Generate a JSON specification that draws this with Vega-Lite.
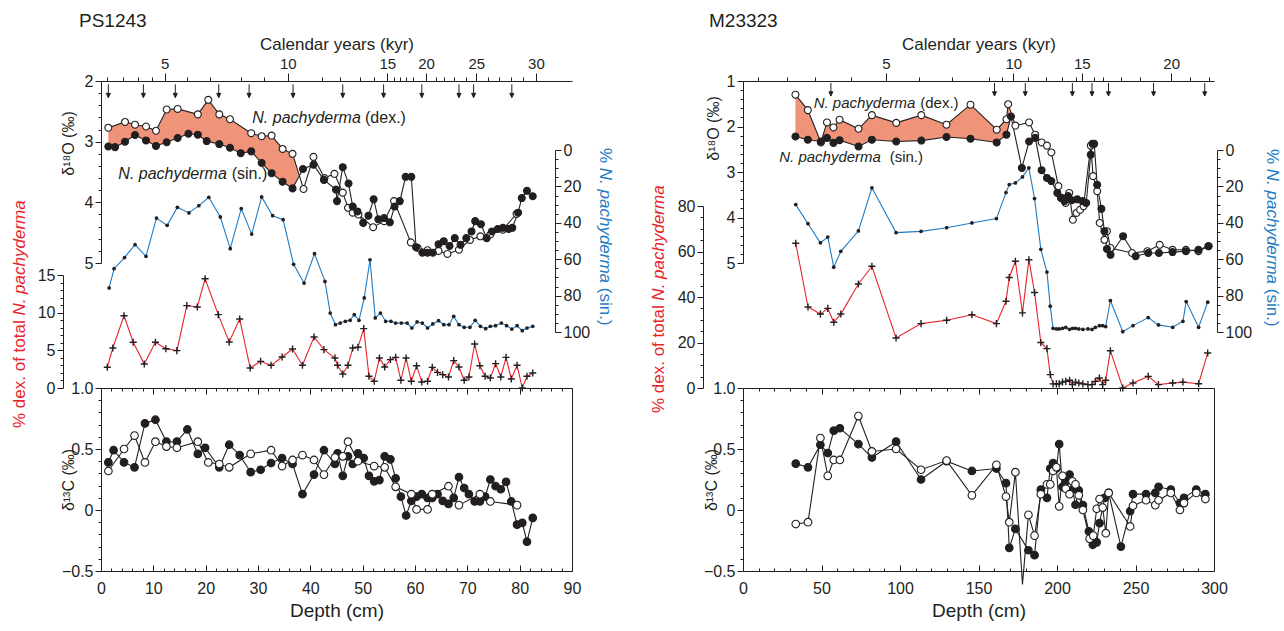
{
"$schema": "https://vega.github.io/schema/vega-lite/v6.json",
"background": "white",
"padding": {"left": 10, "top": 12, "right": 0, "bottom": 0},
"config": {
  "font": "Liberation Sans",
  "view": {"stroke": null},
  "axis": {"labelFont": "Liberation Sans", "titleFont": "Liberation Sans", "labelFontSize": 16, "titleFontSize": 17, "labelColor": "#231F20", "titleColor": "#231F20", "domainColor": "#231F20", "tickColor": "#231F20", "grid": false, "titleFontWeight": "normal", "labelOverlap": false, "labelFlush": false, "labelBound": false, "domainWidth": 1, "tickWidth": 1},
  "title": {"font": "Liberation Sans", "fontSize": 19, "fontWeight": "normal", "anchor": "start", "color": "#231F20"},
  "text": {"font": "Liberation Sans"}
},
"datasets": {
  "ps_o": [
    {"depth":1.4,"sp":"dex","v":2.77},{"depth":4.59,"sp":"dex","v":2.675},{"depth":6.5,"sp":"dex","v":2.72},{"depth":8.6,"sp":"dex","v":2.75},{"depth":10.5,"sp":"dex","v":2.82},{"depth":12.55,"sp":"dex","v":2.47},{"depth":14.65,"sp":"dex","v":2.46},{"depth":18.5,"sp":"dex","v":2.55},{"depth":20.5,"sp":"dex","v":2.31},{"depth":22.6,"sp":"dex","v":2.55},{"depth":24.65,"sp":"dex","v":2.63},{"depth":28.7,"sp":"dex","v":2.86},{"depth":30.7,"sp":"dex","v":2.91},{"depth":32.6,"sp":"dex","v":2.9},{"depth":34.7,"sp":"dex","v":3.12},{"depth":36.6,"sp":"dex","v":3.2},{"depth":38.7,"sp":"dex","v":3.78},{"depth":40.6,"sp":"dex","v":3.25},{"depth":42.7,"sp":"dex","v":3.6},{"depth":44.6,"sp":"dex","v":3.53},{"depth":46.2,"sp":"dex","v":3.84},{"depth":47.2,"sp":"dex","v":4.09},{"depth":48.1,"sp":"dex","v":4.17},{"depth":49.2,"sp":"dex","v":4.2},{"depth":52.0,"sp":"dex","v":4.41},{"depth":54.1,"sp":"dex","v":4.31},{"depth":56.0,"sp":"dex","v":3.98},{"depth":59.2,"sp":"dex","v":4.66},{"depth":60.5,"sp":"dex","v":4.75},{"depth":62.4,"sp":"dex","v":4.79},{"depth":64.5,"sp":"dex","v":4.8},{"depth":66.2,"sp":"dex","v":4.85},{"depth":68.4,"sp":"dex","v":4.78},{"depth":70.5,"sp":"dex","v":4.62},{"depth":72.5,"sp":"dex","v":4.56},{"depth":74.4,"sp":"dex","v":4.53},{"depth":76.8,"sp":"dex","v":4.45},{"depth":79.4,"sp":"dex","v":4.19},
    {"depth":1.4,"sp":"sin","v":3.08},{"depth":2.68,"sp":"sin","v":3.09},{"depth":4.59,"sp":"sin","v":3.0},{"depth":6.5,"sp":"sin","v":2.89},{"depth":8.6,"sp":"sin","v":2.98},{"depth":10.5,"sp":"sin","v":3.07},{"depth":12.55,"sp":"sin","v":3.01},{"depth":14.65,"sp":"sin","v":2.94},{"depth":16.7,"sp":"sin","v":2.87},{"depth":18.5,"sp":"sin","v":2.885},{"depth":20.2,"sp":"sin","v":2.99},{"depth":22.6,"sp":"sin","v":3.04},{"depth":24.65,"sp":"sin","v":3.1},{"depth":26.7,"sp":"sin","v":3.19},{"depth":28.7,"sp":"sin","v":3.16},{"depth":30.7,"sp":"sin","v":3.35},{"depth":32.6,"sp":"sin","v":3.52},{"depth":34.7,"sp":"sin","v":3.66},{"depth":36.6,"sp":"sin","v":3.77},{"depth":38.6,"sp":"sin","v":3.45},{"depth":40.6,"sp":"sin","v":3.38},{"depth":42.6,"sp":"sin","v":3.63},{"depth":44.9,"sp":"sin","v":3.79},{"depth":45.1,"sp":"sin","v":3.98},{"depth":46.2,"sp":"sin","v":3.42},{"depth":47.3,"sp":"sin","v":3.69},{"depth":48.1,"sp":"sin","v":4.07},{"depth":49.0,"sp":"sin","v":4.15},{"depth":50.1,"sp":"sin","v":4.34},{"depth":51.1,"sp":"sin","v":4.22},{"depth":52.1,"sp":"sin","v":3.95},{"depth":53.0,"sp":"sin","v":4.28},{"depth":54.1,"sp":"sin","v":4.26},{"depth":55.2,"sp":"sin","v":4.33},{"depth":56.1,"sp":"sin","v":4.07},{"depth":57.1,"sp":"sin","v":3.98},{"depth":58.2,"sp":"sin","v":3.58},{"depth":59.3,"sp":"sin","v":3.58},{"depth":60.2,"sp":"sin","v":4.74},{"depth":61.4,"sp":"sin","v":4.83},{"depth":62.4,"sp":"sin","v":4.83},{"depth":63.4,"sp":"sin","v":4.83},{"depth":64.5,"sp":"sin","v":4.69},{"depth":65.5,"sp":"sin","v":4.64},{"depth":66.6,"sp":"sin","v":4.72},{"depth":67.6,"sp":"sin","v":4.59},{"depth":68.7,"sp":"sin","v":4.7},{"depth":69.8,"sp":"sin","v":4.59},{"depth":70.8,"sp":"sin","v":4.48},{"depth":71.5,"sp":"sin","v":4.31},{"depth":72.6,"sp":"sin","v":4.36},{"depth":73.7,"sp":"sin","v":4.59},{"depth":74.7,"sp":"sin","v":4.48},{"depth":75.8,"sp":"sin","v":4.44},{"depth":76.8,"sp":"sin","v":4.42},{"depth":77.9,"sp":"sin","v":4.44},{"depth":78.6,"sp":"sin","v":4.42},{"depth":79.7,"sp":"sin","v":4.17},{"depth":80.4,"sp":"sin","v":3.93},{"depth":81.4,"sp":"sin","v":3.81},{"depth":82.5,"sp":"sin","v":3.9}
  ],
  "ps_fill": [
    {"depth":1.4,"dex":2.77,"sin":3.08},{"depth":2.68,"dex":2.73,"sin":3.09},{"depth":4.59,"dex":2.675,"sin":3.0},{"depth":6.5,"dex":2.72,"sin":2.89},{"depth":8.6,"dex":2.75,"sin":2.98},{"depth":10.5,"dex":2.82,"sin":3.07},{"depth":12.55,"dex":2.47,"sin":3.01},{"depth":14.65,"dex":2.46,"sin":2.94},{"depth":16.7,"dex":2.51,"sin":2.87},{"depth":18.5,"dex":2.55,"sin":2.885},{"depth":20.35,"dex":2.31,"sin":2.99},{"depth":22.6,"dex":2.55,"sin":3.04},{"depth":24.65,"dex":2.63,"sin":3.1},{"depth":26.7,"dex":2.75,"sin":3.19},{"depth":28.7,"dex":2.86,"sin":3.16},{"depth":30.7,"dex":2.91,"sin":3.35},{"depth":32.6,"dex":2.9,"sin":3.52},{"depth":34.7,"dex":3.12,"sin":3.66},{"depth":36.6,"dex":3.2,"sin":3.77},{"depth":37.8,"dex":3.54,"sin":3.54}
  ],
  "ps_sin": [
    {"depth":1.55,"p":75.8},{"depth":2.5,"p":65.2},{"depth":4.5,"p":59.1},{"depth":6.5,"p":52.0},{"depth":8.6,"p":58.4},{"depth":10.6,"p":37.4},{"depth":12.65,"p":41.4},{"depth":14.6,"p":31.5},{"depth":16.8,"p":34.6},{"depth":18.7,"p":30.6},{"depth":20.6,"p":26.0},{"depth":22.8,"p":36.8},{"depth":24.7,"p":54.2},{"depth":26.8,"p":32.2},{"depth":28.8,"p":46.2},{"depth":30.7,"p":25.8},{"depth":32.8,"p":36.1},{"depth":34.8,"p":38.3},{"depth":36.8,"p":62.8},{"depth":38.8,"p":73.1},{"depth":40.8,"p":57.0},{"depth":42.8,"p":72.2},{"depth":43.8,"p":89.6},{"depth":44.8,"p":96.0},{"depth":45.7,"p":95.1},{"depth":46.7,"p":94.1},{"depth":47.6,"p":93.6},{"depth":48.4,"p":90.5},{"depth":49.3,"p":93.6},{"depth":50.3,"p":81.3},{"depth":51.4,"p":60.3},{"depth":52.4,"p":92.3},{"depth":53.4,"p":89.6},{"depth":54.4,"p":94.1},{"depth":55.4,"p":94.1},{"depth":56.3,"p":95.1},{"depth":57.4,"p":95.1},{"depth":58.5,"p":95.1},{"depth":59.4,"p":97.8},{"depth":60.4,"p":94.5},{"depth":61.4,"p":95.1},{"depth":62.4,"p":97.8},{"depth":63.4,"p":95.6},{"depth":64.5,"p":93.8},{"depth":65.5,"p":96.0},{"depth":66.5,"p":96.0},{"depth":67.4,"p":91.4},{"depth":68.4,"p":96.0},{"depth":69.4,"p":97.4},{"depth":70.5,"p":97.4},{"depth":71.5,"p":93.6},{"depth":72.5,"p":96.9},{"depth":73.5,"p":98.2},{"depth":74.4,"p":96.9},{"depth":75.4,"p":96.5},{"depth":76.5,"p":95.1},{"depth":77.5,"p":96.5},{"depth":78.5,"p":98.4},{"depth":79.5,"p":96.5},{"depth":80.5,"p":99.3},{"depth":81.4,"p":97.8},{"depth":82.5,"p":96.9}
  ],
  "ps_dex": [
    {"depth":1.2,"p":2.75},{"depth":2.26,"p":5.31},{"depth":4.4,"p":9.6},{"depth":6.15,"p":6.07},{"depth":8.27,"p":3.19},{"depth":10.4,"p":6.07},{"depth":12.4,"p":5.22},{"depth":14.5,"p":4.96},{"depth":16.4,"p":10.93},{"depth":18.4,"p":10.76},{"depth":19.9,"p":14.5},{"depth":22.4,"p":9.74},{"depth":24.5,"p":6.11},{"depth":26.5,"p":9.16},{"depth":28.5,"p":2.66},{"depth":30.5,"p":3.54},{"depth":32.5,"p":3.01},{"depth":34.6,"p":4.12},{"depth":36.6,"p":5.18},{"depth":38.5,"p":3.01},{"depth":40.7,"p":6.77},{"depth":42.6,"p":5.09},{"depth":44.7,"p":3.98},{"depth":45.2,"p":3.01},{"depth":46.2,"p":1.86},{"depth":47.2,"p":3.01},{"depth":48.1,"p":5.31},{"depth":49.1,"p":5.4},{"depth":50.2,"p":7.88},{"depth":51.2,"p":1.55},{"depth":52.2,"p":0.89},{"depth":53.2,"p":3.98},{"depth":54.2,"p":2.79},{"depth":55.3,"p":3.76},{"depth":56.3,"p":4.07},{"depth":57.3,"p":1.02},{"depth":58.3,"p":3.98},{"depth":59.3,"p":0.89},{"depth":60.3,"p":2.96},{"depth":61.3,"p":0.8},{"depth":62.4,"p":0.89},{"depth":63.3,"p":2.74},{"depth":64.3,"p":2.07},{"depth":65.3,"p":1.77},{"depth":66.4,"p":1.46},{"depth":67.4,"p":3.63},{"depth":68.4,"p":2.79},{"depth":69.4,"p":1.02},{"depth":70.3,"p":1.46},{"depth":71.4,"p":5.84},{"depth":72.4,"p":2.96},{"depth":73.4,"p":1.55},{"depth":74.4,"p":1.33},{"depth":75.4,"p":3.23},{"depth":76.4,"p":1.46},{"depth":77.4,"p":4.07},{"depth":78.4,"p":1.2},{"depth":79.5,"p":3.01},{"depth":80.5,"p":0.0},{"depth":81.4,"p":1.55},{"depth":82.5,"p":1.99}
  ],
  "ps_c": [
    {"depth":1.41,"sp":"sin","v":0.39},{"depth":2.4,"sp":"sin","v":0.49},{"depth":4.4,"sp":"sin","v":0.39},{"depth":6.4,"sp":"sin","v":0.35},{"depth":8.4,"sp":"sin","v":0.71},{"depth":10.4,"sp":"sin","v":0.74},{"depth":12.5,"sp":"sin","v":0.56},{"depth":14.5,"sp":"sin","v":0.56},{"depth":16.5,"sp":"sin","v":0.66},{"depth":18.5,"sp":"sin","v":0.46},{"depth":19.9,"sp":"sin","v":0.51},{"depth":22.6,"sp":"sin","v":0.35},{"depth":24.5,"sp":"sin","v":0.535},{"depth":26.5,"sp":"sin","v":0.45},{"depth":28.6,"sp":"sin","v":0.31},{"depth":30.5,"sp":"sin","v":0.33},{"depth":32.5,"sp":"sin","v":0.385},{"depth":34.6,"sp":"sin","v":0.426},{"depth":36.6,"sp":"sin","v":0.377},{"depth":38.5,"sp":"sin","v":0.13},{"depth":40.7,"sp":"sin","v":0.29},{"depth":42.6,"sp":"sin","v":0.49},{"depth":44.7,"sp":"sin","v":0.377},{"depth":45.2,"sp":"sin","v":0.465},{"depth":46.2,"sp":"sin","v":0.28},{"depth":47.2,"sp":"sin","v":0.44},{"depth":48.1,"sp":"sin","v":0.377},{"depth":49.1,"sp":"sin","v":0.465},{"depth":50.2,"sp":"sin","v":0.426},{"depth":51.2,"sp":"sin","v":0.28},{"depth":52.2,"sp":"sin","v":0.235},{"depth":53.2,"sp":"sin","v":0.245},{"depth":54.2,"sp":"sin","v":0.44},{"depth":55.3,"sp":"sin","v":0.415},{"depth":56.3,"sp":"sin","v":0.26},{"depth":57.3,"sp":"sin","v":0.11},{"depth":58.3,"sp":"sin","v":-0.045},{"depth":59.3,"sp":"sin","v":0.075},{"depth":60.3,"sp":"sin","v":0.11},{"depth":61.3,"sp":"sin","v":0.13},{"depth":62.4,"sp":"sin","v":0.1},{"depth":63.3,"sp":"sin","v":0.1},{"depth":64.3,"sp":"sin","v":0.13},{"depth":65.3,"sp":"sin","v":0.075},{"depth":66.4,"sp":"sin","v":0.05},{"depth":67.4,"sp":"sin","v":0.1},{"depth":68.4,"sp":"sin","v":0.27},{"depth":69.4,"sp":"sin","v":0.18},{"depth":70.3,"sp":"sin","v":0.13},{"depth":71.4,"sp":"sin","v":0.07},{"depth":72.4,"sp":"sin","v":0.07},{"depth":73.4,"sp":"sin","v":0.11},{"depth":74.4,"sp":"sin","v":0.25},{"depth":75.4,"sp":"sin","v":0.195},{"depth":76.4,"sp":"sin","v":0.17},{"depth":77.4,"sp":"sin","v":0.23},{"depth":78.4,"sp":"sin","v":0.07},{"depth":79.5,"sp":"sin","v":-0.12},{"depth":80.5,"sp":"sin","v":-0.105},{"depth":81.4,"sp":"sin","v":-0.26},{"depth":82.5,"sp":"sin","v":-0.065},
    {"depth":1.41,"sp":"dex","v":0.32},{"depth":4.4,"sp":"dex","v":0.5},{"depth":6.4,"sp":"dex","v":0.61},{"depth":8.4,"sp":"dex","v":0.39},{"depth":10.4,"sp":"dex","v":0.56},{"depth":12.5,"sp":"dex","v":0.52},{"depth":14.5,"sp":"dex","v":0.51},{"depth":18.5,"sp":"dex","v":0.56},{"depth":20.5,"sp":"dex","v":0.39},{"depth":22.6,"sp":"dex","v":0.377},{"depth":24.5,"sp":"dex","v":0.35},{"depth":28.6,"sp":"dex","v":0.46},{"depth":32.5,"sp":"dex","v":0.49},{"depth":34.6,"sp":"dex","v":0.36},{"depth":36.6,"sp":"dex","v":0.41},{"depth":38.5,"sp":"dex","v":0.45},{"depth":40.7,"sp":"dex","v":0.41},{"depth":42.6,"sp":"dex","v":0.29},{"depth":44.7,"sp":"dex","v":0.43},{"depth":46.2,"sp":"dex","v":0.44},{"depth":47.2,"sp":"dex","v":0.56},{"depth":49.1,"sp":"dex","v":0.4},{"depth":52.2,"sp":"dex","v":0.36},{"depth":54.2,"sp":"dex","v":0.35},{"depth":56.3,"sp":"dex","v":0.19},{"depth":59.3,"sp":"dex","v":0.13},{"depth":60.3,"sp":"dex","v":0.005},{"depth":62.4,"sp":"dex","v":0.005},{"depth":63.3,"sp":"dex","v":0.13},{"depth":66.4,"sp":"dex","v":0.195},{"depth":68.4,"sp":"dex","v":0.04},{"depth":72.4,"sp":"dex","v":0.13},{"depth":74.4,"sp":"dex","v":0.07},{"depth":79.5,"sp":"dex","v":0.04}
  ],
  "ps_arr": [{"depth":1.4},{"depth":8.1},{"depth":14.2},{"depth":22.5},{"depth":28.3},{"depth":36.7},{"depth":46.2},{"depth":54.0},{"depth":61.3},{"depth":68.4},{"depth":71.2},{"depth":78.5}],
  "m_o": [
    {"depth":33.4,"sp":"dex","v":1.3},{"depth":41.3,"sp":"dex","v":1.64},{"depth":49.6,"sp":"dex","v":2.35},{"depth":53.5,"sp":"dex","v":1.91},{"depth":57.6,"sp":"dex","v":2.02},{"depth":61.5,"sp":"dex","v":1.85},{"depth":73.6,"sp":"dex","v":2.05},{"depth":82.1,"sp":"dex","v":1.75},{"depth":97.6,"sp":"dex","v":1.92},{"depth":113.6,"sp":"dex","v":1.75},{"depth":129.6,"sp":"dex","v":1.96},{"depth":144.9,"sp":"dex","v":1.52},{"depth":161.6,"sp":"dex","v":2.07},{"depth":167.8,"sp":"dex","v":1.84},{"depth":168.9,"sp":"dex","v":1.51},{"depth":173.5,"sp":"dex","v":1.98},{"depth":182.2,"sp":"dex","v":1.91},{"depth":186.1,"sp":"dex","v":2.18},{"depth":190.2,"sp":"dex","v":2.35},{"depth":193.6,"sp":"dex","v":2.42},{"depth":196.4,"sp":"dex","v":2.57},{"depth":200.9,"sp":"dex","v":3.31},{"depth":203.2,"sp":"dex","v":3.57},{"depth":205.5,"sp":"dex","v":3.68},{"depth":207.8,"sp":"dex","v":3.46},{"depth":210.1,"sp":"dex","v":4.05},{"depth":212.4,"sp":"dex","v":3.9},{"depth":214.7,"sp":"dex","v":3.83},{"depth":216.9,"sp":"dex","v":3.75},{"depth":221.5,"sp":"dex","v":2.42},{"depth":223.0,"sp":"dex","v":3.09},{"depth":225.6,"sp":"dex","v":3.42},{"depth":227.2,"sp":"dex","v":4.12},{"depth":230.2,"sp":"dex","v":4.49},{"depth":231.8,"sp":"dex","v":4.3},{"depth":234.1,"sp":"dex","v":4.67},{"depth":247.8,"sp":"dex","v":4.78},{"depth":257.6,"sp":"dex","v":4.74},{"depth":265.4,"sp":"dex","v":4.6},{"depth":273.6,"sp":"dex","v":4.71},{"depth":282.1,"sp":"dex","v":4.71},{"depth":290.1,"sp":"dex","v":4.74},{"depth":296.5,"sp":"dex","v":4.63},
    {"depth":33.4,"sp":"sin","v":2.22},{"depth":41.3,"sp":"sin","v":2.29},{"depth":49.6,"sp":"sin","v":2.33},{"depth":53.5,"sp":"sin","v":2.25},{"depth":57.6,"sp":"sin","v":2.36},{"depth":61.5,"sp":"sin","v":2.3},{"depth":73.6,"sp":"sin","v":2.44},{"depth":82.1,"sp":"sin","v":2.29},{"depth":97.6,"sp":"sin","v":2.33},{"depth":113.6,"sp":"sin","v":2.31},{"depth":129.6,"sp":"sin","v":2.23},{"depth":144.9,"sp":"sin","v":2.27},{"depth":161.6,"sp":"sin","v":2.35},{"depth":167.8,"sp":"sin","v":2.18},{"depth":170.7,"sp":"sin","v":1.78},{"depth":177.6,"sp":"sin","v":2.91},{"depth":182.2,"sp":"sin","v":2.33},{"depth":186.1,"sp":"sin","v":2.25},{"depth":190.2,"sp":"sin","v":2.96},{"depth":193.6,"sp":"sin","v":3.13},{"depth":196.4,"sp":"sin","v":3.2},{"depth":200.2,"sp":"sin","v":3.46},{"depth":202.5,"sp":"sin","v":3.57},{"depth":204.8,"sp":"sin","v":3.64},{"depth":207.1,"sp":"sin","v":3.53},{"depth":209.4,"sp":"sin","v":3.62},{"depth":212.9,"sp":"sin","v":3.6},{"depth":216.3,"sp":"sin","v":3.64},{"depth":218.6,"sp":"sin","v":3.68},{"depth":221.5,"sp":"sin","v":2.62},{"depth":222.6,"sp":"sin","v":2.38},{"depth":223.7,"sp":"sin","v":2.38},{"depth":225.6,"sp":"sin","v":3.28},{"depth":228.3,"sp":"sin","v":3.81},{"depth":230.2,"sp":"sin","v":4.3},{"depth":231.8,"sp":"sin","v":4.69},{"depth":234.1,"sp":"sin","v":4.82},{"depth":242.1,"sp":"sin","v":4.41},{"depth":250.1,"sp":"sin","v":4.85},{"depth":258.1,"sp":"sin","v":4.78},{"depth":264.9,"sp":"sin","v":4.78},{"depth":273.6,"sp":"sin","v":4.76},{"depth":282.1,"sp":"sin","v":4.74},{"depth":290.1,"sp":"sin","v":4.71},{"depth":296.5,"sp":"sin","v":4.63}
  ],
  "m_fill": [
    {"depth":33.4,"dex":1.3,"sin":2.22},{"depth":41.3,"dex":1.64,"sin":2.29},{"depth":49.6,"dex":2.33,"sin":2.33},{"depth":53.5,"dex":1.91,"sin":2.25},{"depth":57.6,"dex":2.02,"sin":2.36},{"depth":61.5,"dex":1.85,"sin":2.3},{"depth":73.6,"dex":2.05,"sin":2.44},{"depth":82.1,"dex":1.75,"sin":2.29},{"depth":97.6,"dex":1.92,"sin":2.33},{"depth":113.6,"dex":1.75,"sin":2.31},{"depth":129.6,"dex":1.96,"sin":2.23},{"depth":144.9,"dex":1.52,"sin":2.27},{"depth":161.6,"dex":2.07,"sin":2.35},{"depth":167.8,"dex":1.84,"sin":2.18},{"depth":168.9,"dex":1.51,"sin":2.03},{"depth":170.6,"dex":1.8,"sin":1.8}
  ],
  "m_sin": [
    {"depth":33.6,"p":30.0},{"depth":41.4,"p":40.5},{"depth":49.3,"p":51.0},{"depth":54.0,"p":47.8},{"depth":57.8,"p":64.4},{"depth":62.3,"p":55.7},{"depth":73.5,"p":44.5},{"depth":82.1,"p":20.8},{"depth":97.5,"p":45.4},{"depth":113.4,"p":44.7},{"depth":129.7,"p":42.7},{"depth":145.8,"p":40.1},{"depth":161.4,"p":37.7},{"depth":167.5,"p":23.4},{"depth":169.6,"p":19.0},{"depth":173.5,"p":18.1},{"depth":178.0,"p":14.8},{"depth":182.1,"p":9.8},{"depth":185.7,"p":26.7},{"depth":189.7,"p":54.6},{"depth":193.6,"p":67.1},{"depth":195.7,"p":85.8},{"depth":197.5,"p":98.0},{"depth":199.6,"p":98.3},{"depth":201.4,"p":98.3},{"depth":203.5,"p":98.0},{"depth":205.6,"p":97.5},{"depth":208.0,"p":98.5},{"depth":209.8,"p":98.0},{"depth":211.8,"p":98.0},{"depth":213.9,"p":98.3},{"depth":216.5,"p":98.6},{"depth":219.7,"p":98.3},{"depth":222.3,"p":98.6},{"depth":224.4,"p":97.5},{"depth":227.0,"p":96.5},{"depth":229.1,"p":96.5},{"depth":231.0,"p":97.0},{"depth":234.0,"p":82.7},{"depth":241.9,"p":99.8},{"depth":248.4,"p":96.5},{"depth":258.1,"p":92.1},{"depth":264.6,"p":96.1},{"depth":273.7,"p":97.4},{"depth":280.2,"p":94.1},{"depth":282.3,"p":83.3},{"depth":290.2,"p":97.4},{"depth":296.0,"p":83.6}
  ],
  "m_dex": [
    {"depth":33.6,"p":63.6},{"depth":41.4,"p":35.6},{"depth":49.3,"p":32.5},{"depth":54.0,"p":35.0},{"depth":57.8,"p":28.9},{"depth":62.3,"p":32.5},{"depth":73.5,"p":45.7},{"depth":82.1,"p":53.5},{"depth":97.5,"p":22.0},{"depth":113.4,"p":28.3},{"depth":129.7,"p":29.8},{"depth":145.8,"p":32.2},{"depth":161.4,"p":28.3},{"depth":167.5,"p":38.1},{"depth":169.6,"p":48.6},{"depth":173.5,"p":55.7},{"depth":178.0,"p":33.0},{"depth":182.1,"p":56.4},{"depth":185.7,"p":42.0},{"depth":189.7,"p":20.0},{"depth":193.6,"p":17.3},{"depth":195.7,"p":5.9},{"depth":197.5,"p":1.8},{"depth":199.6,"p":1.8},{"depth":201.4,"p":1.8},{"depth":203.5,"p":2.6},{"depth":205.6,"p":2.9},{"depth":208.0,"p":3.4},{"depth":209.8,"p":1.5},{"depth":211.8,"p":2.6},{"depth":213.9,"p":2.2},{"depth":216.5,"p":1.8},{"depth":219.7,"p":1.5},{"depth":222.3,"p":1.5},{"depth":224.4,"p":2.9},{"depth":227.0,"p":4.4},{"depth":229.1,"p":1.5},{"depth":231.0,"p":3.4},{"depth":234.0,"p":16.4},{"depth":241.9,"p":0.0},{"depth":248.4,"p":2.2},{"depth":258.1,"p":5.1},{"depth":264.6,"p":1.5},{"depth":273.7,"p":2.2},{"depth":280.2,"p":2.6},{"depth":290.2,"p":1.9},{"depth":296.0,"p":15.4}
  ],
  "m_c": [
    {"depth":33.6,"sp":"sin","v":0.38},{"depth":41.4,"sp":"sin","v":0.35},{"depth":49.3,"sp":"sin","v":0.535},{"depth":54.0,"sp":"sin","v":0.467},{"depth":57.8,"sp":"sin","v":0.65},{"depth":61.7,"sp":"sin","v":0.67},{"depth":73.5,"sp":"sin","v":0.54},{"depth":82.1,"sp":"sin","v":0.43},{"depth":97.5,"sp":"sin","v":0.56},{"depth":113.4,"sp":"sin","v":0.25},{"depth":129.7,"sp":"sin","v":0.4},{"depth":145.8,"sp":"sin","v":0.32},{"depth":161.4,"sp":"sin","v":0.34},{"depth":167.5,"sp":"sin","v":0.22},{"depth":169.6,"sp":"sin","v":-0.31},{"depth":173.5,"sp":"sin","v":-0.155},{"depth":181.8,"sp":"sin","v":-0.33},{"depth":185.7,"sp":"sin","v":-0.37},{"depth":189.7,"sp":"sin","v":0.167},{"depth":193.6,"sp":"sin","v":0.1},{"depth":195.7,"sp":"sin","v":0.34},{"depth":197.5,"sp":"sin","v":0.385},{"depth":199.6,"sp":"sin","v":0.34},{"depth":201.4,"sp":"sin","v":0.54},{"depth":203.5,"sp":"sin","v":0.19},{"depth":205.6,"sp":"sin","v":0.235},{"depth":208.0,"sp":"sin","v":0.29},{"depth":209.8,"sp":"sin","v":0.167},{"depth":211.8,"sp":"sin","v":0.043},{"depth":213.9,"sp":"sin","v":0.16},{"depth":216.5,"sp":"sin","v":0.04},{"depth":220.3,"sp":"sin","v":-0.175},{"depth":222.8,"sp":"sin","v":-0.285},{"depth":225.3,"sp":"sin","v":-0.265},{"depth":227.1,"sp":"sin","v":-0.107},{"depth":230.3,"sp":"sin","v":0.1},{"depth":232.9,"sp":"sin","v":0.14},{"depth":240.7,"sp":"sin","v":-0.3},{"depth":246.6,"sp":"sin","v":-0.01},{"depth":248.4,"sp":"sin","v":0.13},{"depth":256.7,"sp":"sin","v":0.13},{"depth":262.6,"sp":"sin","v":0.14},{"depth":264.7,"sp":"sin","v":0.19},{"depth":272.5,"sp":"sin","v":0.167},{"depth":278.3,"sp":"sin","v":0.057},{"depth":280.9,"sp":"sin","v":0.1},{"depth":288.7,"sp":"sin","v":0.167},{"depth":294.5,"sp":"sin","v":0.13},
    {"depth":33.6,"sp":"dex","v":-0.115},{"depth":41.4,"sp":"dex","v":-0.1},{"depth":49.3,"sp":"dex","v":0.59},{"depth":54.0,"sp":"dex","v":0.28},{"depth":57.8,"sp":"dex","v":0.41},{"depth":61.7,"sp":"dex","v":0.41},{"depth":73.5,"sp":"dex","v":0.77},{"depth":82.1,"sp":"dex","v":0.48},{"depth":97.5,"sp":"dex","v":0.5},{"depth":113.4,"sp":"dex","v":0.33},{"depth":129.7,"sp":"dex","v":0.405},{"depth":145.8,"sp":"dex","v":0.12},{"depth":161.4,"sp":"dex","v":0.37},{"depth":167.5,"sp":"dex","v":0.11},{"depth":169.6,"sp":"dex","v":-0.1},{"depth":173.5,"sp":"dex","v":0.31},{"depth":178.0,"sp":"dex","v":-0.61},{"depth":181.8,"sp":"dex","v":-0.04},{"depth":185.7,"sp":"dex","v":-0.21},{"depth":189.7,"sp":"dex","v":0.13},{"depth":193.6,"sp":"dex","v":0.21},{"depth":195.7,"sp":"dex","v":0.21},{"depth":197.5,"sp":"dex","v":0.32},{"depth":199.6,"sp":"dex","v":0.35},{"depth":201.4,"sp":"dex","v":0.03},{"depth":203.5,"sp":"dex","v":0.28},{"depth":205.6,"sp":"dex","v":0.175},{"depth":208.0,"sp":"dex","v":0.13},{"depth":209.8,"sp":"dex","v":0.235},{"depth":211.8,"sp":"dex","v":0.21},{"depth":213.9,"sp":"dex","v":0.12},{"depth":216.5,"sp":"dex","v":0.0},{"depth":220.8,"sp":"dex","v":-0.235},{"depth":223.1,"sp":"dex","v":-0.21},{"depth":225.3,"sp":"dex","v":0.01},{"depth":227.1,"sp":"dex","v":0.09},{"depth":229.1,"sp":"dex","v":0.02},{"depth":231.1,"sp":"dex","v":-0.19},{"depth":232.9,"sp":"dex","v":0.14},{"depth":246.6,"sp":"dex","v":-0.135},{"depth":248.4,"sp":"dex","v":0.035},{"depth":256.7,"sp":"dex","v":0.08},{"depth":262.6,"sp":"dex","v":0.04},{"depth":264.7,"sp":"dex","v":0.08},{"depth":272.5,"sp":"dex","v":0.14},{"depth":278.3,"sp":"dex","v":0.0},{"depth":280.9,"sp":"dex","v":0.057},{"depth":288.7,"sp":"dex","v":0.14},{"depth":294.5,"sp":"dex","v":0.09}
  ],
  "m_arr": [{"depth":56.0},{"depth":160.2},{"depth":179.8},{"depth":209.8},{"depth":222.3},{"depth":232.8},{"depth":261.5},{"depth":294.1}]
},
"hconcat": [
 {
  "vconcat": [
   {
    "width": 471, "height": 307,
    "title": {"text": "PS1243", "anchor": "start", "frame": "group", "dx": -22, "offset": 4},
    "resolve": {"scale": {"y": "independent"}, "axis": {"y": "independent", "x": "independent"}},
    "layer": [
     {"resolve": {"axis": {"x": "independent", "y": "independent"}},
      "layer": [
       {"data": {"name": "ps_fill"}, "mark": {"type": "area", "color": "#EF9479", "opacity": 1},
        "encoding": {
          "x": {"field": "depth", "type": "quantitative", "scale": {"domain": [0, 90], "nice": false, "zero": false},
                "axis": {"orient": "top", "values": [12.16,35.7,54.7,62.1,71.7,83.1],
                         "labelExpr": "['5','10','15','20','25','30'][indexof([12.16,35.7,54.7,62.1,71.7,83.1], datum.value)]",
                         "tickSize": 8, "labelPadding": 2, "labelFontSize": 15, "title": "Calendar years (kyr)", "titlePadding": 3}},
          "y": {"field": "dex", "type": "quantitative", "scale": {"domain": [2, 5], "range": [0, 182], "nice": false, "zero": false},
                "axis": {"orient": "left", "values": [2,3,4,5], "format": "d", "tickSize": 6, "labelPadding": 2,
                         "title": "δ¹⁸O (‰)", "titleFontSize": 16, "titleX": -33, "titleY": 62, "titleAngle": -90, "titleAlign": "center", "titleBaseline": "middle"}},
          "y2": {"field": "sin"}
        }},
       {"data": {"name": "ps_o"}, "mark": {"type": "line", "color": "#231F20", "strokeWidth": 1.1},
        "encoding": {
          "x": {"field": "depth", "type": "quantitative", "scale": {"domain": [0, 90], "nice": false, "zero": false},
                "axis": {"orient": "top", "values": [1.06,4.17,7.0,9.83,16.5,20.9,26.7,31.1,42.2,45.7,49.5,52.1,55.9,57.1,58.3,59.7,64.0,65.5,67.4,69.8,73.9,76.1,78.3,80.6], "labels": false, "domain": false, "tickSize": 4, "title": null}},
          "y": {"field": "v", "type": "quantitative", "scale": {"domain": [2, 5], "range": [0, 182], "nice": false, "zero": false},
                "axis": {"orient": "left", "values": [2.2,2.4,2.6,2.8,3.2,3.4,3.6,3.8,4.2,4.4,4.6,4.8], "labels": false, "domain": false, "tickSize": 3, "title": null}},
          "detail": {"field": "sp"}
        }},
       {"data": {"name": "ps_o"}, "mark": {"type": "point", "shape": "circle", "filled": true, "size": 48, "stroke": "#231F20", "strokeWidth": 1.1, "opacity": 1},
        "encoding": {
          "x": {"field": "depth", "type": "quantitative", "scale": {"domain": [0, 90], "nice": false, "zero": false}, "axis": null},
          "y": {"field": "v", "type": "quantitative", "scale": {"domain": [2, 5], "range": [0, 182], "nice": false, "zero": false}, "axis": null},
          "fill": {"field": "sp", "type": "nominal", "scale": {"domain": ["dex", "sin"], "range": ["#ffffff", "#231F20"]}, "legend": null}
        }},
       {"data": {"name": "ps_arr"}, "mark": {"type": "point", "shape": "M0,-1L0,0.5M-0.3,0.35L0,1L0.3,0.35Z", "filled": true, "size": 180, "color": "#231F20", "stroke": "#231F20", "strokeWidth": 1, "opacity": 1},
        "encoding": {
          "x": {"field": "depth", "type": "quantitative", "scale": {"domain": [0, 90], "nice": false, "zero": false}, "axis": null},
          "y": {"datum": 2.165, "type": "quantitative", "scale": {"domain": [2, 5], "range": [0, 182], "nice": false, "zero": false}, "axis": null}
        }},
       {"data": {"values": [{}]}, "mark": {"type": "text", "text": "N. pachyderma", "fontStyle": "italic", "fontSize": 16, "align": "left", "baseline": "middle", "color": "#231F20"},
        "encoding": {
          "x": {"datum": 28.91, "type": "quantitative", "scale": {"domain": [0, 90], "nice": false, "zero": false}, "axis": null},
          "y": {"datum": 2.61, "type": "quantitative", "scale": {"domain": [2, 5], "range": [0, 182], "nice": false, "zero": false}, "axis": null}
        }},
       {"data": {"values": [{}]}, "mark": {"type": "text", "text": "(dex.)", "fontSize": 16, "align": "left", "baseline": "middle", "color": "#231F20"},
        "encoding": {
          "x": {"datum": 50.45, "type": "quantitative", "scale": {"domain": [0, 90], "nice": false, "zero": false}, "axis": null},
          "y": {"datum": 2.61, "type": "quantitative", "scale": {"domain": [2, 5], "range": [0, 182], "nice": false, "zero": false}, "axis": null}
        }},
       {"data": {"values": [{}]}, "mark": {"type": "text", "text": "N. pachyderma", "fontStyle": "italic", "fontSize": 16, "align": "left", "baseline": "middle", "color": "#231F20"},
        "encoding": {
          "x": {"datum": 3.31, "type": "quantitative", "scale": {"domain": [0, 90], "nice": false, "zero": false}, "axis": null},
          "y": {"datum": 3.528, "type": "quantitative", "scale": {"domain": [2, 5], "range": [0, 182], "nice": false, "zero": false}, "axis": null}
        }},
       {"data": {"values": [{}]}, "mark": {"type": "text", "text": "(sin.)", "fontSize": 16, "align": "left", "baseline": "middle", "color": "#231F20"},
        "encoding": {
          "x": {"datum": 24.98, "type": "quantitative", "scale": {"domain": [0, 90], "nice": false, "zero": false}, "axis": null},
          "y": {"datum": 3.528, "type": "quantitative", "scale": {"domain": [2, 5], "range": [0, 182], "nice": false, "zero": false}, "axis": null}
        }}
     ]},
     {"resolve": {"axis": {"y": "independent"}},
      "layer": [
       {"data": {"name": "ps_sin"}, "mark": {"type": "line", "color": "#1F7BC4", "strokeWidth": 1.1},
        "encoding": {
          "x": {"field": "depth", "type": "quantitative", "scale": {"domain": [0, 90], "nice": false, "zero": false}, "axis": null},
          "y": {"field": "p", "type": "quantitative", "scale": {"domain": [0, 100], "range": [69, 251], "nice": false, "zero": false},
                "axis": {"orient": "right", "offset": -17, "values": [0,20,40,60,80,100], "format": "d", "tickSize": 6, "labelPadding": 2, "title": null}}
        }},
       {"data": {"name": "ps_sin"}, "mark": {"type": "circle", "size": 14, "color": "#231F20", "opacity": 1},
        "encoding": {
          "x": {"field": "depth", "type": "quantitative", "scale": {"domain": [0, 90], "nice": false, "zero": false}, "axis": null},
          "y": {"field": "p", "type": "quantitative", "scale": {"domain": [0, 100], "range": [69, 251], "nice": false, "zero": false},
                "axis": {"orient": "right", "offset": -17, "values": [5,10,15,25,30,35,45,50,55,65,70,75,85,90,95], "labels": false, "domain": false, "tickSize": 3, "title": null}}
        }},
       {"data": {"values": [{}]}, "mark": {"type": "text", "text": "%", "fontSize": 17, "angle": 90, "align": "left", "baseline": "middle", "color": "#1F7BC4", "dx": 0},
        "encoding": {
          "x": {"datum": 96.3, "type": "quantitative", "scale": {"domain": [0, 90], "nice": false, "zero": false}, "axis": null},
          "y": {"datum": -1.1, "type": "quantitative", "scale": {"domain": [0, 100], "range": [69, 251], "nice": false, "zero": false}, "axis": null}
        }},
       {"data": {"values": [{}]}, "mark": {"type": "text", "text": "N. pachyderma", "fontStyle": "italic", "fontSize": 17, "angle": 90, "align": "left", "baseline": "middle", "color": "#1F7BC4", "dx": 19.8},
        "encoding": {
          "x": {"datum": 96.3, "type": "quantitative", "scale": {"domain": [0, 90], "nice": false, "zero": false}, "axis": null},
          "y": {"datum": -1.1, "type": "quantitative", "scale": {"domain": [0, 100], "range": [69, 251], "nice": false, "zero": false}, "axis": null}
        }},
       {"data": {"values": [{}]}, "mark": {"type": "text", "text": "(sin.)", "fontSize": 17, "angle": 90, "align": "left", "baseline": "middle", "color": "#1F7BC4", "dx": 139.8},
        "encoding": {
          "x": {"datum": 96.3, "type": "quantitative", "scale": {"domain": [0, 90], "nice": false, "zero": false}, "axis": null},
          "y": {"datum": -1.1, "type": "quantitative", "scale": {"domain": [0, 100], "range": [69, 251], "nice": false, "zero": false}, "axis": null}
        }}
     ]},
     {"resolve": {"axis": {"y": "independent"}},
      "layer": [
       {"data": {"name": "ps_dex"}, "mark": {"type": "line", "color": "#E8232A", "strokeWidth": 1.1},
        "encoding": {
          "x": {"field": "depth", "type": "quantitative", "scale": {"domain": [0, 90], "nice": false, "zero": false}, "axis": null},
          "y": {"field": "p", "type": "quantitative", "scale": {"domain": [0, 15], "range": [307, 194], "nice": false, "zero": false},
                "axis": {"orient": "left", "offset": 38, "values": [0,5,10,15], "format": "d", "tickSize": 6, "labelPadding": 2, "title": null}}
        }},
       {"data": {"name": "ps_dex"}, "mark": {"type": "point", "shape": "M-1,0L1,0M0,-1L0,1", "filled": false, "size": 50, "stroke": "#231F20", "strokeWidth": 1.4, "opacity": 1},
        "encoding": {
          "x": {"field": "depth", "type": "quantitative", "scale": {"domain": [0, 90], "nice": false, "zero": false}, "axis": null},
          "y": {"field": "p", "type": "quantitative", "scale": {"domain": [0, 15], "range": [307, 194], "nice": false, "zero": false},
                "axis": {"orient": "left", "offset": 38, "values": [1,2,3,4,6,7,8,9,11,12,13,14], "labels": false, "domain": false, "tickSize": 3, "title": null}}
        }},
       {"data": {"values": [{}]}, "mark": {"type": "text", "text": "% dex. of total", "fontSize": 17, "angle": 270, "align": "left", "baseline": "middle", "color": "#E8232A", "dx": 0},
        "encoding": {
          "x": {"datum": -15.5, "type": "quantitative", "scale": {"domain": [0, 90], "nice": false, "zero": false}, "axis": null},
          "y": {"datum": -5.31, "type": "quantitative", "scale": {"domain": [0, 15], "range": [307, 194], "nice": false, "zero": false}, "axis": null}
        }},
       {"data": {"values": [{}]}, "mark": {"type": "text", "text": "N. pachyderma", "fontStyle": "italic", "fontSize": 17, "angle": 270, "align": "left", "baseline": "middle", "color": "#E8232A", "dx": 112.4},
        "encoding": {
          "x": {"datum": -15.5, "type": "quantitative", "scale": {"domain": [0, 90], "nice": false, "zero": false}, "axis": null},
          "y": {"datum": -5.31, "type": "quantitative", "scale": {"domain": [0, 15], "range": [307, 194], "nice": false, "zero": false}, "axis": null}
        }}
     ]}
    ]
   },
   {
    "width": 471, "height": 183,
    "view": {"stroke": "#231F20", "strokeWidth": 1},
    "resolve": {"axis": {"x": "independent", "y": "independent"}},
    "layer": [
     {"data": {"name": "ps_c"}, "transform": [{"filter": "datum.sp === 'sin'"}], "mark": {"type": "line", "color": "#231F20", "strokeWidth": 1.1},
      "encoding": {
        "x": {"field": "depth", "type": "quantitative", "scale": {"domain": [0, 90], "nice": false, "zero": false},
              "axis": {"orient": "bottom", "values": [0,10,20,30,40,50,60,70,80,90], "format": "d", "ticks": false, "domain": false, "labelPadding": 9, "title": "Depth (cm)", "titleFontSize": 19, "titlePadding": 5}},
        "y": {"field": "v", "type": "quantitative", "scale": {"domain": [-0.5, 1], "nice": false, "zero": false},
              "axis": {"orient": "left", "values": [-0.5,0,0.5,1], "labelExpr": "datum.value === 0 ? '0' : format(datum.value, '.1f')", "tickSize": 6, "labelPadding": 2, "domain": false,
                       "title": "δ¹³C (‰)", "titleFontSize": 16, "titleX": -33, "titleY": 91.5, "titleAngle": -90, "titleAlign": "center", "titleBaseline": "middle"}}
      }},
     {"data": {"name": "ps_c"}, "transform": [{"filter": "datum.sp === 'dex'"}], "mark": {"type": "line", "color": "#231F20", "strokeWidth": 1.1},
      "encoding": {
        "x": {"field": "depth", "type": "quantitative", "scale": {"domain": [0, 90], "nice": false, "zero": false},
              "axis": {"orient": "top", "offset": -183, "values": [0,10,20,30,40,50,60,70,80,90], "labels": false, "domain": false, "tickSize": 6, "title": null}},
        "y": {"field": "v", "type": "quantitative", "scale": {"domain": [-0.5, 1], "nice": false, "zero": false},
              "axis": {"orient": "left", "values": [-0.4,-0.3,-0.2,-0.1,0.1,0.2,0.3,0.4,0.6,0.7,0.8,0.9], "labels": false, "domain": false, "tickSize": 3, "title": null}}
      }},
     {"data": {"name": "ps_c"}, "transform": [{"filter": "datum.sp === 'sin'"}], "mark": {"type": "point", "shape": "circle", "filled": true, "size": 58, "fill": "#231F20", "stroke": "#231F20", "strokeWidth": 1.1, "opacity": 1},
      "encoding": {
        "x": {"field": "depth", "type": "quantitative", "scale": {"domain": [0, 90], "nice": false, "zero": false},
              "axis": {"orient": "top", "offset": -183, "values": [2,4,6,8,12,14,16,18,22,24,26,28,32,34,36,38,42,44,46,48,52,54,56,58,62,64,66,68,72,74,76,78,82,84,86,88], "labels": false, "domain": false, "tickSize": 3, "title": null}},
        "y": {"field": "v", "type": "quantitative", "scale": {"domain": [-0.5, 1], "nice": false, "zero": false}, "axis": null}
      }},
     {"data": {"name": "ps_c"}, "transform": [{"filter": "datum.sp === 'dex'"}], "mark": {"type": "point", "shape": "circle", "filled": true, "size": 58, "fill": "#ffffff", "stroke": "#231F20", "strokeWidth": 1.1, "opacity": 1},
      "encoding": {
        "x": {"field": "depth", "type": "quantitative", "scale": {"domain": [0, 90], "nice": false, "zero": false},
              "axis": {"orient": "bottom", "offset": -183, "values": [0,10,20,30,40,50,60,70,80,90], "labels": false, "domain": false, "tickSize": 6, "title": null}},
        "y": {"field": "v", "type": "quantitative", "scale": {"domain": [-0.5, 1], "nice": false, "zero": false}, "axis": null}
      }},
     {"data": {"name": "ps_c"}, "mark": {"type": "point", "opacity": 0, "size": 1},
      "encoding": {
        "x": {"field": "depth", "type": "quantitative", "scale": {"domain": [0, 90], "nice": false, "zero": false},
              "axis": {"orient": "bottom", "offset": -183, "values": [2,4,6,8,12,14,16,18,22,24,26,28,32,34,36,38,42,44,46,48,52,54,56,58,62,64,66,68,72,74,76,78,82,84,86,88], "labels": false, "domain": false, "tickSize": 3, "title": null}},
        "y": {"field": "v", "type": "quantitative", "scale": {"domain": [-0.5, 1], "nice": false, "zero": false}, "axis": null}
      }}
    ]
   }
  ],
  "spacing": 0,
  "bounds": "flush"
 },
 {
  "vconcat": [
   {
    "width": 471, "height": 307,
    "title": {"text": "M23323", "anchor": "start", "frame": "group", "dx": -34, "offset": 4},
    "resolve": {"scale": {"y": "independent"}, "axis": {"y": "independent", "x": "independent"}},
    "layer": [
     {"resolve": {"axis": {"x": "independent", "y": "independent"}},
      "layer": [
       {"data": {"name": "m_fill"}, "mark": {"type": "area", "color": "#EF9479", "opacity": 1},
        "encoding": {
          "x": {"field": "depth", "type": "quantitative", "scale": {"domain": [0, 300], "nice": false, "zero": false},
                "axis": {"orient": "top", "values": [91.0,172.2,215.8,272.7],
                         "labelExpr": "['5','10','15','20'][indexof([91.0,172.2,215.8,272.7], datum.value)]",
                         "tickSize": 8, "labelPadding": 2, "labelFontSize": 15, "title": "Calendar years (kyr)", "titlePadding": 3}},
          "y": {"field": "dex", "type": "quantitative", "scale": {"domain": [1, 5], "range": [0, 182], "nice": false, "zero": false},
                "axis": {"orient": "left", "values": [1,2,3,4,5], "format": "d", "tickSize": 6, "labelPadding": 2,
                         "title": "δ¹⁸O (‰)", "titleFontSize": 16, "titleX": -30, "titleY": 47, "titleAngle": -90, "titleAlign": "center", "titleBaseline": "middle"}},
          "y2": {"field": "sin"}
        }},
       {"data": {"name": "m_o"}, "mark": {"type": "line", "color": "#231F20", "strokeWidth": 1.1},
        "encoding": {
          "x": {"field": "depth", "type": "quantitative", "scale": {"domain": [0, 300], "nice": false, "zero": false},
                "axis": {"orient": "top", "values": [9.5,27.8,46.1,68.8,112.1,133.0,156.5,164.9,181.8,193.0,203.0,211.8,223.6,229.6,241.0,253.1,284.9,296.7], "labels": false, "domain": false, "tickSize": 4, "title": null}},
          "y": {"field": "v", "type": "quantitative", "scale": {"domain": [1, 5], "range": [0, 182], "nice": false, "zero": false},
                "axis": {"orient": "left", "values": [1.2,1.4,1.6,1.8,2.2,2.4,2.6,2.8,3.2,3.4,3.6,3.8,4.2,4.4,4.6,4.8], "labels": false, "domain": false, "tickSize": 3, "title": null}},
          "detail": {"field": "sp"}
        }},
       {"data": {"name": "m_o"}, "mark": {"type": "point", "shape": "circle", "filled": true, "size": 48, "stroke": "#231F20", "strokeWidth": 1.1, "opacity": 1},
        "encoding": {
          "x": {"field": "depth", "type": "quantitative", "scale": {"domain": [0, 300], "nice": false, "zero": false}, "axis": null},
          "y": {"field": "v", "type": "quantitative", "scale": {"domain": [1, 5], "range": [0, 182], "nice": false, "zero": false}, "axis": null},
          "fill": {"field": "sp", "type": "nominal", "scale": {"domain": ["dex", "sin"], "range": ["#ffffff", "#231F20"]}, "legend": null}
        }},
       {"data": {"name": "m_arr"}, "mark": {"type": "point", "shape": "M0,-1L0,0.5M-0.3,0.35L0,1L0.3,0.35Z", "filled": true, "size": 170, "color": "#231F20", "stroke": "#231F20", "strokeWidth": 1, "opacity": 1},
        "encoding": {
          "x": {"field": "depth", "type": "quantitative", "scale": {"domain": [0, 300], "nice": false, "zero": false}, "axis": null},
          "y": {"datum": 1.187, "type": "quantitative", "scale": {"domain": [1, 5], "range": [0, 182], "nice": false, "zero": false}, "axis": null}
        }},
       {"data": {"values": [{}]}, "mark": {"type": "text", "text": "N. pachyderma", "fontStyle": "italic", "fontSize": 15, "align": "left", "baseline": "middle", "color": "#231F20"},
        "encoding": {
          "x": {"datum": 45.0, "type": "quantitative", "scale": {"domain": [0, 300], "nice": false, "zero": false}, "axis": null},
          "y": {"datum": 1.484, "type": "quantitative", "scale": {"domain": [1, 5], "range": [0, 182], "nice": false, "zero": false}, "axis": null}
        }},
       {"data": {"values": [{}]}, "mark": {"type": "text", "text": "(dex.)", "fontSize": 15, "align": "left", "baseline": "middle", "color": "#231F20"},
        "encoding": {
          "x": {"datum": 112.9, "type": "quantitative", "scale": {"domain": [0, 300], "nice": false, "zero": false}, "axis": null},
          "y": {"datum": 1.484, "type": "quantitative", "scale": {"domain": [1, 5], "range": [0, 182], "nice": false, "zero": false}, "axis": null}
        }},
       {"data": {"values": [{}]}, "mark": {"type": "text", "text": "N. pachyderma", "fontStyle": "italic", "fontSize": 15, "align": "left", "baseline": "middle", "color": "#231F20"},
        "encoding": {
          "x": {"datum": 23.07, "type": "quantitative", "scale": {"domain": [0, 300], "nice": false, "zero": false}, "axis": null},
          "y": {"datum": 2.67, "type": "quantitative", "scale": {"domain": [1, 5], "range": [0, 182], "nice": false, "zero": false}, "axis": null}
        }},
       {"data": {"values": [{}]}, "mark": {"type": "text", "text": "(sin.)", "fontSize": 15, "align": "left", "baseline": "middle", "color": "#231F20"},
        "encoding": {
          "x": {"datum": 93.4, "type": "quantitative", "scale": {"domain": [0, 300], "nice": false, "zero": false}, "axis": null},
          "y": {"datum": 2.67, "type": "quantitative", "scale": {"domain": [1, 5], "range": [0, 182], "nice": false, "zero": false}, "axis": null}
        }}
     ]},
     {"resolve": {"axis": {"y": "independent"}},
      "layer": [
       {"data": {"name": "m_sin"}, "mark": {"type": "line", "color": "#1F7BC4", "strokeWidth": 1.1},
        "encoding": {
          "x": {"field": "depth", "type": "quantitative", "scale": {"domain": [0, 300], "nice": false, "zero": false}, "axis": null},
          "y": {"field": "p", "type": "quantitative", "scale": {"domain": [0, 100], "range": [69, 251], "nice": false, "zero": false},
                "axis": {"orient": "right", "offset": 3, "values": [0,20,40,60,80,100], "format": "d", "tickSize": 6, "labelPadding": 2, "title": null}}
        }},
       {"data": {"name": "m_sin"}, "mark": {"type": "circle", "size": 14, "color": "#231F20", "opacity": 1},
        "encoding": {
          "x": {"field": "depth", "type": "quantitative", "scale": {"domain": [0, 300], "nice": false, "zero": false}, "axis": null},
          "y": {"field": "p", "type": "quantitative", "scale": {"domain": [0, 100], "range": [69, 251], "nice": false, "zero": false},
                "axis": {"orient": "right", "offset": 3, "values": [5,10,15,25,30,35,45,50,55,65,70,75,85,90,95], "labels": false, "domain": false, "tickSize": 3, "title": null}}
        }},
       {"data": {"values": [{}]}, "mark": {"type": "text", "text": "%", "fontSize": 17, "angle": 90, "align": "left", "baseline": "middle", "color": "#1F7BC4", "dx": 0},
        "encoding": {
          "x": {"datum": 336.9, "type": "quantitative", "scale": {"domain": [0, 300], "nice": false, "zero": false}, "axis": null},
          "y": {"datum": -0.55, "type": "quantitative", "scale": {"domain": [0, 100], "range": [69, 251], "nice": false, "zero": false}, "axis": null}
        }},
       {"data": {"values": [{}]}, "mark": {"type": "text", "text": "N. pachyderma", "fontStyle": "italic", "fontSize": 17, "angle": 90, "align": "left", "baseline": "middle", "color": "#1F7BC4", "dx": 19.8},
        "encoding": {
          "x": {"datum": 336.9, "type": "quantitative", "scale": {"domain": [0, 300], "nice": false, "zero": false}, "axis": null},
          "y": {"datum": -0.55, "type": "quantitative", "scale": {"domain": [0, 100], "range": [69, 251], "nice": false, "zero": false}, "axis": null}
        }},
       {"data": {"values": [{}]}, "mark": {"type": "text", "text": "(sin.)", "fontSize": 17, "angle": 90, "align": "left", "baseline": "middle", "color": "#1F7BC4", "dx": 139.8},
        "encoding": {
          "x": {"datum": 336.9, "type": "quantitative", "scale": {"domain": [0, 300], "nice": false, "zero": false}, "axis": null},
          "y": {"datum": -0.55, "type": "quantitative", "scale": {"domain": [0, 100], "range": [69, 251], "nice": false, "zero": false}, "axis": null}
        }}
     ]},
     {"resolve": {"axis": {"y": "independent"}},
      "layer": [
       {"data": {"name": "m_dex"}, "mark": {"type": "line", "color": "#E8232A", "strokeWidth": 1.1},
        "encoding": {
          "x": {"field": "depth", "type": "quantitative", "scale": {"domain": [0, 300], "nice": false, "zero": false}, "axis": null},
          "y": {"field": "p", "type": "quantitative", "scale": {"domain": [0, 80], "range": [307, 125], "nice": false, "zero": false},
                "axis": {"orient": "left", "offset": 40, "values": [0,20,40,60,80], "format": "d", "tickSize": 6, "labelPadding": 2, "title": null}}
        }},
       {"data": {"name": "m_dex"}, "mark": {"type": "point", "shape": "M-1,0L1,0M0,-1L0,1", "filled": false, "size": 50, "stroke": "#231F20", "strokeWidth": 1.4, "opacity": 1},
        "encoding": {
          "x": {"field": "depth", "type": "quantitative", "scale": {"domain": [0, 300], "nice": false, "zero": false}, "axis": null},
          "y": {"field": "p", "type": "quantitative", "scale": {"domain": [0, 80], "range": [307, 125], "nice": false, "zero": false},
                "axis": {"orient": "left", "offset": 40, "values": [5,10,15,25,30,35,45,50,55,65,70,75], "labels": false, "domain": false, "tickSize": 3, "title": null}}
        }},
       {"data": {"values": [{}]}, "mark": {"type": "text", "text": "% dex. of total", "fontSize": 17, "angle": 270, "align": "left", "baseline": "middle", "color": "#E8232A", "dx": 0},
        "encoding": {
          "x": {"datum": -53.4, "type": "quantitative", "scale": {"domain": [0, 300], "nice": false, "zero": false}, "axis": null},
          "y": {"datum": -11.0, "type": "quantitative", "scale": {"domain": [0, 80], "range": [307, 125], "nice": false, "zero": false}, "axis": null}
        }},
       {"data": {"values": [{}]}, "mark": {"type": "text", "text": "N. pachyderma", "fontStyle": "italic", "fontSize": 17, "angle": 270, "align": "left", "baseline": "middle", "color": "#E8232A", "dx": 112.4},
        "encoding": {
          "x": {"datum": -53.4, "type": "quantitative", "scale": {"domain": [0, 300], "nice": false, "zero": false}, "axis": null},
          "y": {"datum": -11.0, "type": "quantitative", "scale": {"domain": [0, 80], "range": [307, 125], "nice": false, "zero": false}, "axis": null}
        }}
     ]}
    ]
   },
   {
    "width": 471, "height": 183,
    "view": {"stroke": "#231F20", "strokeWidth": 1},
    "resolve": {"axis": {"x": "independent", "y": "independent"}},
    "layer": [
     {"data": {"name": "m_c"}, "transform": [{"filter": "datum.sp === 'sin'"}], "mark": {"type": "line", "color": "#231F20", "strokeWidth": 1.1},
      "encoding": {
        "x": {"field": "depth", "type": "quantitative", "scale": {"domain": [0, 300], "nice": false, "zero": false},
              "axis": {"orient": "bottom", "values": [0,50,100,150,200,250,300], "format": "d", "ticks": false, "domain": false, "labelPadding": 9, "title": "Depth (cm)", "titleFontSize": 19, "titlePadding": 5}},
        "y": {"field": "v", "type": "quantitative", "scale": {"domain": [-0.5, 1], "nice": false, "zero": false},
              "axis": {"orient": "left", "values": [-0.5,0,0.5,1], "labelExpr": "datum.value === 0 ? '0' : format(datum.value, '.1f')", "tickSize": 6, "labelPadding": 2, "domain": false,
                       "title": "δ¹³C (‰)", "titleFontSize": 16, "titleX": -32, "titleY": 91.5, "titleAngle": -90, "titleAlign": "center", "titleBaseline": "middle"}}
      }},
     {"data": {"name": "m_c"}, "transform": [{"filter": "datum.sp === 'dex'"}], "mark": {"type": "line", "color": "#231F20", "strokeWidth": 1.1},
      "encoding": {
        "x": {"field": "depth", "type": "quantitative", "scale": {"domain": [0, 300], "nice": false, "zero": false},
              "axis": {"orient": "top", "offset": -183, "values": [0,50,100,150,200,250,300], "labels": false, "domain": false, "tickSize": 6, "title": null}},
        "y": {"field": "v", "type": "quantitative", "scale": {"domain": [-0.5, 1], "nice": false, "zero": false},
              "axis": {"orient": "left", "values": [-0.4,-0.3,-0.2,-0.1,0.1,0.2,0.3,0.4,0.6,0.7,0.8,0.9], "labels": false, "domain": false, "tickSize": 3, "title": null}}
      }},
     {"data": {"name": "m_c"}, "transform": [{"filter": "datum.sp === 'sin'"}], "mark": {"type": "point", "shape": "circle", "filled": true, "size": 58, "fill": "#231F20", "stroke": "#231F20", "strokeWidth": 1.1, "opacity": 1},
      "encoding": {
        "x": {"field": "depth", "type": "quantitative", "scale": {"domain": [0, 300], "nice": false, "zero": false},
              "axis": {"orient": "top", "offset": -183, "values": [10,20,30,40,60,70,80,90,110,120,130,140,160,170,180,190,210,220,230,240,260,270,280,290], "labels": false, "domain": false, "tickSize": 3, "title": null}},
        "y": {"field": "v", "type": "quantitative", "scale": {"domain": [-0.5, 1], "nice": false, "zero": false}, "axis": null}
      }},
     {"data": {"name": "m_c"}, "transform": [{"filter": "datum.sp === 'dex'"}], "mark": {"type": "point", "shape": "circle", "filled": true, "size": 58, "fill": "#ffffff", "stroke": "#231F20", "strokeWidth": 1.1, "opacity": 1, "clip": true},
      "encoding": {
        "x": {"field": "depth", "type": "quantitative", "scale": {"domain": [0, 300], "nice": false, "zero": false},
              "axis": {"orient": "bottom", "offset": -183, "values": [0,50,100,150,200,250,300], "labels": false, "domain": false, "tickSize": 6, "title": null}},
        "y": {"field": "v", "type": "quantitative", "scale": {"domain": [-0.5, 1], "nice": false, "zero": false}, "axis": null}
      }},
     {"data": {"name": "m_c"}, "mark": {"type": "point", "opacity": 0, "size": 1},
      "encoding": {
        "x": {"field": "depth", "type": "quantitative", "scale": {"domain": [0, 300], "nice": false, "zero": false},
              "axis": {"orient": "bottom", "offset": -183, "values": [10,20,30,40,60,70,80,90,110,120,130,140,160,170,180,190,210,220,230,240,260,270,280,290], "labels": false, "domain": false, "tickSize": 3, "title": null}},
        "y": {"field": "v", "type": "quantitative", "scale": {"domain": [-0.5, 1], "nice": false, "zero": false}, "axis": null}
      }}
    ]
   }
  ],
  "spacing": 0,
  "bounds": "flush"
 }
],
"spacing": 36
}
